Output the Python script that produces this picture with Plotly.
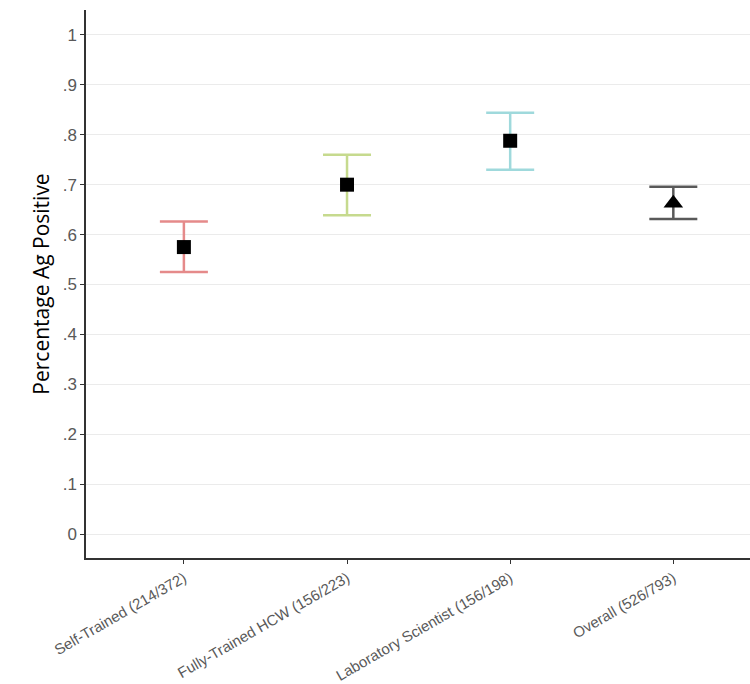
import plotly.graph_objects as go

categories = ["Self-Trained (214/372)", "Fully-Trained HCW (156/223)",
              "Laboratory Scientist (156/198)", "Overall (526/793)"]
estimate = [0.575, 0.700, 0.788, 0.663]
upper = [0.626, 0.760, 0.844, 0.696]
lower = [0.525, 0.639, 0.730, 0.631]
colors = ["#E58A8A", "#C6DA8E", "#9FD9DC", "#595959"]
symbols = ["square", "square", "square", "triangle-up"]
tick_vals = [0, 0.1, 0.2, 0.3, 0.4, 0.5, 0.6, 0.7, 0.8, 0.9, 1]
tick_text = ["0", ".1", ".2", ".3", ".4", ".5", ".6", ".7", ".8", ".9", "1"]

fig = go.Figure()
for i, cat in enumerate(categories):
    x = i + 1
    fig.add_trace(go.Scatter(
        x=[x], y=[estimate[i]], mode="markers",
        marker=dict(symbol=symbols[i], size=14 if symbols[i] == "square" else 17,
                    color="black", line=dict(width=0)),
        error_y=dict(type="data", symmetric=False,
                     array=[upper[i] - estimate[i]],
                     arrayminus=[estimate[i] - lower[i]],
                     color=colors[i], thickness=2.5, width=24),
        showlegend=False, hoverinfo="skip"))

fig.update_layout(
    width=750, height=684,
    margin=dict(l=86, r=0, t=10, b=126),
    paper_bgcolor="white", plot_bgcolor="white",
    font=dict(family="Liberation Sans, Arial, sans-serif"),
    xaxis=dict(range=[0.4, 4.47], tickmode="array", tickvals=[1, 2, 3, 4],
               ticktext=categories, tickangle=-30, showgrid=False,
               showline=True, linecolor="#333333", linewidth=1.5,
               ticks="outside", ticklen=4, tickcolor="#333333", tickwidth=1,
               tickfont=dict(size=15, color="#595959"), zeroline=False),
    yaxis=dict(range=[-0.048, 1.05], tickmode="array", tickvals=tick_vals,
               ticktext=tick_text, showgrid=True, gridcolor="#EBEBEB", gridwidth=1,
               showline=True, linecolor="#333333", linewidth=1.5,
               ticks="outside", ticklen=4, tickcolor="#333333", tickwidth=1,
               tickfont=dict(size=17, color="#595959"), zeroline=False,
               title=dict(text="Percentage Ag Positive",
                          font=dict(size=21, color="black", family="Open Sans, sans-serif"),
                          standoff=7)),
)

fig.write_html("out.html", config={"displayModeBar": False},
               post_script="document.body.style.margin='0px';")
